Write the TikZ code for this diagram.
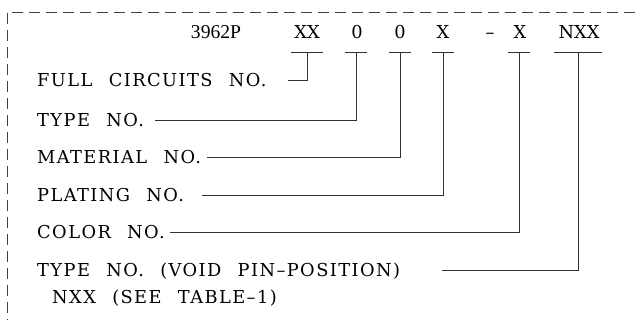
\documentclass[tikz,border=0pt]{standalone}
\usepackage{fontspec}
\setmainfont{DejaVu Serif}[WordSpace=2.3,LetterSpace=8]
\newfontfamily\codefont{DejaVu Serif}[Ligatures=TeX]
\newfontfamily\numfont{Liberation Serif}[Ligatures=TeX]
\tikzset{
  lbl/.style={anchor=base west, inner sep=0pt, font=\fontsize{17.8}{21}\selectfont},
  code/.style={anchor=base, inner sep=0pt, font=\codefont\fontsize{17.8}{21}\selectfont},
  lead/.style={draw=black!80, line width=0.8pt},
  frame/.style={draw=black!75, line width=0.8pt, dash pattern=on 11pt off 6pt}
}
\begin{document}
\begin{tikzpicture}[x=1pt,y=-1pt]
\useasboundingbox (0,0) rectangle (640,320);
\clip (0,0) rectangle (640,320);
% dashed frame (cropped on right and bottom)
\coordinate (fb) at (7,330);
\coordinate (fc) at (7,12);
\coordinate (fr) at (650,12);
\draw[frame] (fb) -- (fc) -- (fr);
% code row
\node[code, font=\numfont\fontsize{19.6}{22}\selectfont] (c0) at (216,38.5) {3962P};
\node[code] (c1) at (307,38.5) {XX};
\node[code] (c2) at (357,38.5) {0};
\node[code] (c3) at (400,38.5) {0};
\node[code] (c4) at (443,38.5) {X};
\node[code] (cd) at (490,38.5) {--};
\node[code] (c5) at (520,38.5) {X};
\node[code] (c6) at (579,38.5) {NXX};
% underlines
\coordinate (a1) at (291,52); \coordinate (b1) at (323,52);
\coordinate (a2) at (345,52); \coordinate (b2) at (367,52);
\coordinate (a3) at (389,52); \coordinate (b3) at (411,52);
\coordinate (a4) at (432,52); \coordinate (b4) at (454,52);
\coordinate (a5) at (508,52); \coordinate (b5) at (530,52);
\coordinate (a6) at (554,52); \coordinate (b6) at (602,52);
\foreach \i in {1,...,6}{\draw[lead] (a\i) -- (b\i);}
% tap points on underlines
\coordinate (t1) at (307,52);
\coordinate (t2) at (356,52);
\coordinate (t3) at (400,52);
\coordinate (t4) at (443,52);
\coordinate (t5) at (519,52);
\coordinate (t6) at (578,52);
% labels
\node[lbl] (l1) at (37,86.5) {FULL CIRCUITS NO.};
\node[lbl] (l2) at (37,126.5) {TYPE NO.};
\node[lbl] (l3) at (37,163.5) {MATERIAL NO.};
\node[lbl] (l4) at (37,201.5) {PLATING NO.};
\node[lbl] (l5) at (37,238.5) {COLOR NO.};
\node[lbl] (l6) at (37,276.5) {TYPE NO. (VOID PIN--POSITION)};
\node[lbl] (l7) at (52,303.5) {NXX (SEE TABLE--1)};
% leader start points
\coordinate (s1) at (288,80);
\coordinate (s2) at (155,120);
\coordinate (s3) at (207,157);
\coordinate (s4) at (202,195);
\coordinate (s5) at (170,232);
\coordinate (s6) at (442,270);
% leaders
\draw[lead] (s1) -| (t1);
\draw[lead] (s2) -| (t2);
\draw[lead] (s3) -| (t3);
\draw[lead] (s4) -| (t4);
\draw[lead] (s5) -| (t5);
\draw[lead] (s6) -| (t6);
\end{tikzpicture}
\end{document}
